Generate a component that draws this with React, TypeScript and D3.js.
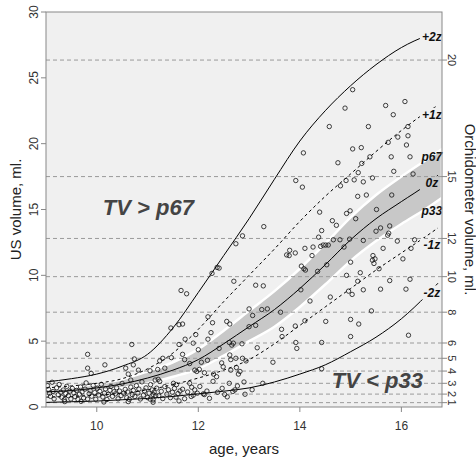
import React from 'react';
import * as d3 from 'd3';

const width = 476;
const height = 458;
const margin = { top: 12, right: 34, bottom: 51, left: 46 };
const font = 'Liberation Sans, Arial, sans-serif';

// axes
const ageTicks = [10, 12, 14, 16];
const volumeTicks = [0, 5, 10, 15, 20, 25, 30];
// orchidometer volumes on the right axis and the US volume each one sits at
const orchidTicks = [1, 2, 3, 4, 5, 6, 8, 10, 12, 15, 20];
const orchidAsUS = [0.33, 0.98, 1.8, 2.73, 3.7, 4.86, 7.2, 9.9, 12.8, 17.5, 26.35];

// reference curves (age grid shared by all of them)
const ageGrid = [9, 9.5, 10, 10.5, 11, 11.5, 12, 12.5, 13, 13.5, 14, 14.5, 15, 15.5, 16, 16.5, 16.72];
const plus2z = [1.9, 2.15, 2.5, 3.1, 4.0, 6.0, 8.7, 11.5, 14.3, 17.3, 20.2, 22.5, 24.4, 26.0, 27.3, 28.2, 28.5];
const plus1z = [1.45, 1.6, 1.8, 2.15, 2.9, 4.1, 5.9, 8.0, 10.0, 12.0, 14.1, 16.0, 17.7, 19.4, 21.0, 22.4, 22.9];
const zero = [1.15, 1.25, 1.45, 1.75, 2.2, 2.8, 3.6, 4.8, 6.1, 7.4, 9.0, 10.8, 12.7, 14.3, 15.6, 16.9, 17.6];
const minus1z = [0.75, 0.8, 0.9, 1.05, 1.3, 1.7, 2.2, 2.8, 3.6, 4.8, 6.2, 7.6, 9.0, 10.4, 11.7, 13.0, 13.6];
const minus2z = [0.35, 0.4, 0.45, 0.55, 0.65, 0.8, 1.0, 1.2, 1.45, 1.9, 2.5, 3.2, 4.2, 5.3, 6.7, 8.5, 9.4];

// p33 - p67 band
const bandAges = [9, 9.5, 10, 10.5, 11, 11.5, 12, 12.5, 13, 13.5, 14, 14.5, 15, 15.5, 16, 16.5, 16.8];
const p67 = [1.35, 1.5, 1.75, 2.1, 2.7, 3.4, 4.4, 5.8, 7.3, 8.8, 10.5, 12.4, 14.4, 16.1, 17.5, 18.8, 19.6];
const p33 = [0.95, 1.05, 1.2, 1.45, 1.8, 2.3, 2.9, 3.9, 5.0, 6.1, 7.6, 9.3, 11.1, 12.6, 13.9, 15.1, 15.9];

// curve labels
const curveLabels = ['+2z', '+1z', 'p67', '0z', 'p33', '-1z', '-2z'];
const curveLabelVolumes = [28.1, 22.2, 19.0, 17.0, 14.9, 12.3, 8.7];
const curveLabelAge = 16.6;

// observations [age, volume]
const upperPts = [
  [15.04, 24.1], [14.89, 22.7], [14.58, 21.3], [15.35, 21.3], [15.04, 19.6], [15.21, 19.7], [14.07, 19.3], [15.38, 19.0],
  [16.07, 23.2], [15.69, 22.9], [15.84, 22.2], [16.13, 20.6], [15.93, 20.5], [16.1, 19.9], [16.17, 19.0], [15.8, 19.0],
  [16.13, 21.3], [15.74, 20.1], [15.22, 18.5], [14.75, 18.55], [15.85, 17.9], [16.23, 17.7], [15.43, 17.4], [15.15, 17.8],
  [14.91, 17.2], [15.07, 17.25], [15.25, 17.1], [14.8, 16.8], [14.05, 16.7], [13.92, 17.2], [15.14, 16.0], [15.31, 16.1],
  [15.81, 16.1], [14.39, 14.8], [14.92, 14.7], [14.99, 14.9], [15.51, 15.0], [14.64, 14.15], [14.72, 13.8], [15.1, 14.3],
  [15.59, 13.6], [15.5, 13.35], [15.77, 13.75], [15.75, 13.2], [15.73, 13.05], [15.92, 12.6], [16.26, 12.7], [14.43, 13.4],
  [14.37, 12.9], [14.79, 12.7], [14.98, 12.75], [15.25, 12.65], [14.66, 12.7], [14.26, 12.15], [14.41, 12.2], [14.46, 12.3],
  [14.51, 12.3], [14.56, 12.3], [14.1, 12.05], [14.87, 12.15], [15.64, 12.05], [15.44, 11.5], [14.24, 11.5], [16.03, 11.25],
  [13.29, 13.7], [12.87, 13.0], [12.74, 12.4], [13.8, 11.9], [13.74, 11.55], [13.91, 11.7], [13.79, 11.5],
];
const midPts = [
  [12.37, 10.6], [12.41, 10.55], [12.27, 10.15], [14.03, 10.7], [14.08, 10.5], [14.11, 10.4], [14.53, 10.8], [15.0, 11.0],
  [14.35, 10.3], [14.92, 10.0], [15.19, 10.2], [12.7, 9.55], [13.13, 9.25], [13.28, 9.2], [11.66, 8.85], [11.77, 8.6],
  [14.02, 8.9], [14.96, 8.8], [15.03, 8.55], [15.14, 9.55], [14.6, 8.35], [14.2, 8.05], [13.0, 7.45], [13.25, 7.4],
  [13.36, 7.45], [15.25, 8.9], [15.48, 11.25], [15.43, 11.15], [15.46, 10.9], [15.56, 10.5], [16.19, 12.05], [15.77, 9.6],
  [16.17, 9.7], [15.59, 8.95], [16.09, 8.95], [13.07, 6.95], [13.62, 7.2], [15.41, 7.3], [13.0, 6.1], [13.13, 6.2],
  [14.1, 6.55], [14.51, 6.5], [15.0, 6.65], [15.16, 6.3], [13.64, 5.9], [13.65, 5.35], [13.91, 6.15], [16.14, 5.45],
  [15.0, 5.35], [12.86, 4.8], [13.16, 4.5], [13.92, 4.9], [13.94, 4.45], [14.43, 4.9], [12.87, 3.7], [12.94, 3.5],
  [13.47, 3.4], [12.82, 2.7], [14.43, 2.9], [12.9, 1.9], [13.27, 1.8],
];
const lowPts = [
  [12.19, 6.85], [12.28, 6.4], [12.56, 6.5], [12.62, 6.3], [11.46, 6.0], [11.62, 6.25], [11.69, 6.3], [11.74, 5.15],
  [11.9, 4.85], [11.62, 4.75], [11.95, 5.5], [12.25, 5.65], [12.19, 5.15], [12.41, 4.45], [12.61, 4.9], [12.66, 4.7],
  [12.69, 4.85], [12.0, 4.35], [11.69, 4.0], [11.3, 3.7], [11.24, 3.5], [11.47, 3.75], [11.73, 3.6], [11.83, 3.3],
  [12.06, 3.4], [12.18, 3.55], [12.46, 3.35], [12.62, 3.95], [12.64, 3.6], [12.74, 3.7], [11.2, 2.85], [11.34, 2.95],
  [11.93, 2.8], [11.97, 2.7], [12.02, 2.85], [12.12, 2.6], [12.3, 2.5], [12.36, 2.3], [12.49, 3.05], [12.64, 2.8],
  [12.75, 3.0], [12.79, 2.5], [11.05, 2.75], [11.15, 2.05], [11.21, 2.1], [11.24, 1.95], [11.51, 1.8], [11.57, 1.7],
  [11.69, 1.35], [11.83, 1.8], [11.87, 1.5], [11.93, 1.3], [11.98, 1.05], [12.29, 1.95], [12.1, 1.0], [12.61, 1.8],
  [12.77, 1.6], [11.11, 0.95], [11.16, 0.85], [11.56, 0.75], [11.9, 0.9], [12.12, 0.95], [12.52, 0.95], [12.72, 1.3],
  [11.05, 0.6], [11.11, 0.55], [10.69, 4.75], [9.82, 4.0], [10.16, 3.2], [9.82, 2.95], [9.89, 2.55], [10.57, 2.95],
  [10.74, 3.65], [10.72, 3.2], [10.82, 2.8], [10.62, 2.5], [10.67, 2.05],
];
const clusterPts = [
  [9.03, 1.62], [9.05, 1.33], [9.07, 1.04], [9.09, 0.81], [9.12, 1.88], [9.14, 1.18], [9.16, 0.62], [9.21, 1.46],
  [9.24, 0.93], [9.26, 1.71], [9.29, 1.12], [9.31, 0.74], [9.34, 1.29], [9.36, 0.55], [9.39, 1.02], [9.41, 1.57],
  [9.44, 0.86], [9.47, 1.21], [9.49, 0.61], [9.52, 1.41], [9.55, 1.06], [9.57, 0.79], [9.6, 1.26], [9.63, 0.58],
  [9.66, 0.97], [9.68, 1.52], [9.71, 1.14], [9.74, 0.69], [9.77, 1.36], [9.79, 1.83], [9.82, 0.6], [9.85, 1.01],
  [9.87, 1.24], [9.9, 0.82], [9.93, 1.63], [9.96, 1.09], [9.98, 0.59], [10.01, 1.42], [10.04, 0.91], [10.06, 1.19],
  [10.09, 1.72], [10.12, 0.76], [10.15, 1.05], [10.17, 1.37], [10.2, 0.57], [10.23, 0.96], [10.26, 1.27], [10.28, 1.56],
  [10.31, 0.81], [10.34, 1.16], [10.37, 1.0], [10.39, 1.47], [10.42, 0.62], [10.45, 1.21], [10.48, 0.87], [10.5, 1.79],
  [10.53, 1.04], [10.56, 1.34], [10.59, 0.71], [10.61, 1.14], [10.64, 0.58], [10.67, 1.51], [10.7, 0.94], [10.72, 1.26],
  [10.75, 0.8], [10.78, 1.62], [10.81, 1.06], [10.83, 1.36], [10.86, 0.61], [10.89, 1.91], [10.92, 0.9], [10.94, 1.22],
  [10.97, 1.45], [11.0, 0.72], [11.03, 1.05], [11.06, 1.7], [11.09, 1.3], [11.13, 1.13], [11.18, 1.43], [11.22, 0.86],
  [11.27, 1.19], [11.3, 0.64], [11.34, 1.55], [11.38, 0.97], [11.41, 1.31], [11.45, 0.71], [11.49, 1.12], [11.53, 1.41],
  [11.6, 1.02], [11.64, 1.22], [11.73, 0.63], [11.79, 1.14], [11.86, 0.8], [12.03, 1.56], [12.17, 1.21], [12.22, 0.66],
  [12.38, 1.12], [12.47, 1.42], [12.57, 0.77], [12.68, 1.18], [12.92, 0.97], [13.06, 1.31],
  [9.37, 0.41], [9.69, 0.43], [10.14, 0.38], [10.62, 0.41], [11.11, 0.36], [11.62, 0.46],
];

// region annotations: [age, volume] of the text start/baseline
const tvHigh = { text: 'TV > p67', at: [10.12, 14.6] };
const tvLow = { text: 'TV < p33', at: [14.63, 1.44] };

const x = d3.scaleLinear().domain([9, 16.8]).range([margin.left, width - margin.right]);
const y = d3.scaleLinear().domain([0, 30]).range([height - margin.bottom, margin.top]);

const line = d3
  .line<number>()
  .x((d, i) => x(ageGrid[i]))
  .y(d => y(d))
  .curve(d3.curveMonotoneX);

const band = d3
  .area<number>()
  .x((d, i) => x(bandAges[i]))
  .y0((d, i) => y(p33[i]))
  .y1(d => y(d))
  .curve(d3.curveMonotoneX);

const curves = [
  { values: plus2z, dash: null },
  { values: plus1z, dash: '3,3' },
  { values: zero, dash: null },
  { values: minus1z, dash: '3,3' },
  { values: minus2z, dash: null },
];

export default function App() {
  const x0 = margin.left;
  const x1 = width - margin.right;
  const y0 = height - margin.bottom;
  const y1 = margin.top;
  const points = [...upperPts, ...midPts, ...lowPts, ...clusterPts];

  return (
    <div style={{ position: 'absolute', left: 0, top: 0 }}>
      <svg width={width} height={height} style={{ display: 'block', background: '#fff' }}>
        <defs>
          <clipPath id="plotClip">
            <rect x={x0} y={y1} width={x1 - x0} height={y0 - y1} />
          </clipPath>
          <mask id="labelMask" maskUnits="userSpaceOnUse" x={0} y={0} width={width} height={height}>
            <rect x={0} y={0} width={width} height={height} fill="#fff" />
            {curveLabels.map((t, i) => (
              <rect
                key={t}
                x={x(curveLabelAge) - 12}
                y={y(curveLabelVolumes[i]) - 7}
                width={24}
                height={14}
                fill="#000"
              />
            ))}
          </mask>
        </defs>

        <rect x={x0} y={y1} width={x1 - x0} height={y0 - y1} fill="#f0f0f0" />

        <g clipPath="url(#plotClip)">
          <path d={band(p67) || ''} fill="#c8c8c8" stroke="#fff" strokeWidth={2.5} />
          {orchidAsUS.map((v, i) => (
            <line
              key={'g' + i}
              x1={x0}
              x2={x1}
              y1={y(v)}
              y2={y(v)}
              stroke="#9a9a9a"
              strokeWidth={1}
              strokeDasharray="4,3"
            />
          ))}
          <g mask="url(#labelMask)">
            {curves.map((c, i) => (
              <path
                key={'c' + i}
                d={line(c.values) || ''}
                fill="none"
                stroke="#000"
                strokeWidth={1}
                strokeDasharray={c.dash || undefined}
              />
            ))}
          </g>
          {points.map((p, i) => (
            <circle key={'p' + i} cx={x(p[0])} cy={y(p[1])} r={2.2} fill="none" stroke="#111" strokeWidth={0.8} />
          ))}
        </g>

        {curveLabels.map((t, i) => (
          <text
            key={'l' + t}
            x={x(curveLabelAge)}
            y={y(curveLabelVolumes[i])}
            dy="0.35em"
            textAnchor="middle"
            fontFamily={font}
            fontSize={12}
            fontWeight="bold"
            fontStyle="italic"
            fill="#111"
          >
            {t}
          </text>
        ))}

        {[tvHigh, tvLow].map(a => (
          <text
            key={a.text}
            x={x(a.at[0])}
            y={y(a.at[1])}
            fontFamily={font}
            fontSize={22}
            fontWeight="bold"
            fontStyle="italic"
            fill="#444"
          >
            {a.text}
          </text>
        ))}

        <rect x={x0} y={y1} width={x1 - x0} height={y0 - y1} fill="none" stroke="#888" strokeWidth={1} />

        {/* bottom axis */}
        {ageTicks.map(t => (
          <g key={'x' + t}>
            <line x1={x(t)} x2={x(t)} y1={y0} y2={y0 + 5} stroke="#888" />
            <text x={x(t)} y={y0 + 23} textAnchor="middle" fontFamily={font} fontSize={12} fill="#333">
              {t}
            </text>
          </g>
        ))}
        <text x={(x0 + x1) / 2} y={454} textAnchor="middle" fontFamily={font} fontSize={15} fill="#222">
          age, years
        </text>

        {/* left axis */}
        {volumeTicks.map(t => (
          <g key={'y' + t}>
            <line x1={x0} x2={x0 - 5} y1={y(t)} y2={y(t)} stroke="#888" />
            <text
              transform={`translate(38,${y(t)}) rotate(-90)`}
              textAnchor="middle"
              fontFamily={font}
              fontSize={12}
              fill="#333"
            >
              {t}
            </text>
          </g>
        ))}
        <text
          transform={`translate(21,${(y0 + y1) / 2}) rotate(-90)`}
          textAnchor="middle"
          fontFamily={font}
          fontSize={15}
          fill="#222"
        >
          US volume, ml.
        </text>

        {/* right axis: orchidometer */}
        {orchidTicks.map((t, i) => (
          <g key={'o' + t}>
            <line x1={x1} x2={x1 + 5} y1={y(orchidAsUS[i])} y2={y(orchidAsUS[i])} stroke="#888" />
            <text
              transform={`translate(448,${y(orchidAsUS[i])}) rotate(90)`}
              textAnchor="middle"
              fontFamily={font}
              fontSize={11}
              fill="#333"
            >
              {t}
            </text>
          </g>
        ))}
        <text
          transform={`translate(465,${(y0 + y1) / 2}) rotate(90)`}
          textAnchor="middle"
          fontFamily={font}
          fontSize={15}
          fill="#222"
        >
          Orchidometer volume, ml.
        </text>
      </svg>
    </div>
  );
}
